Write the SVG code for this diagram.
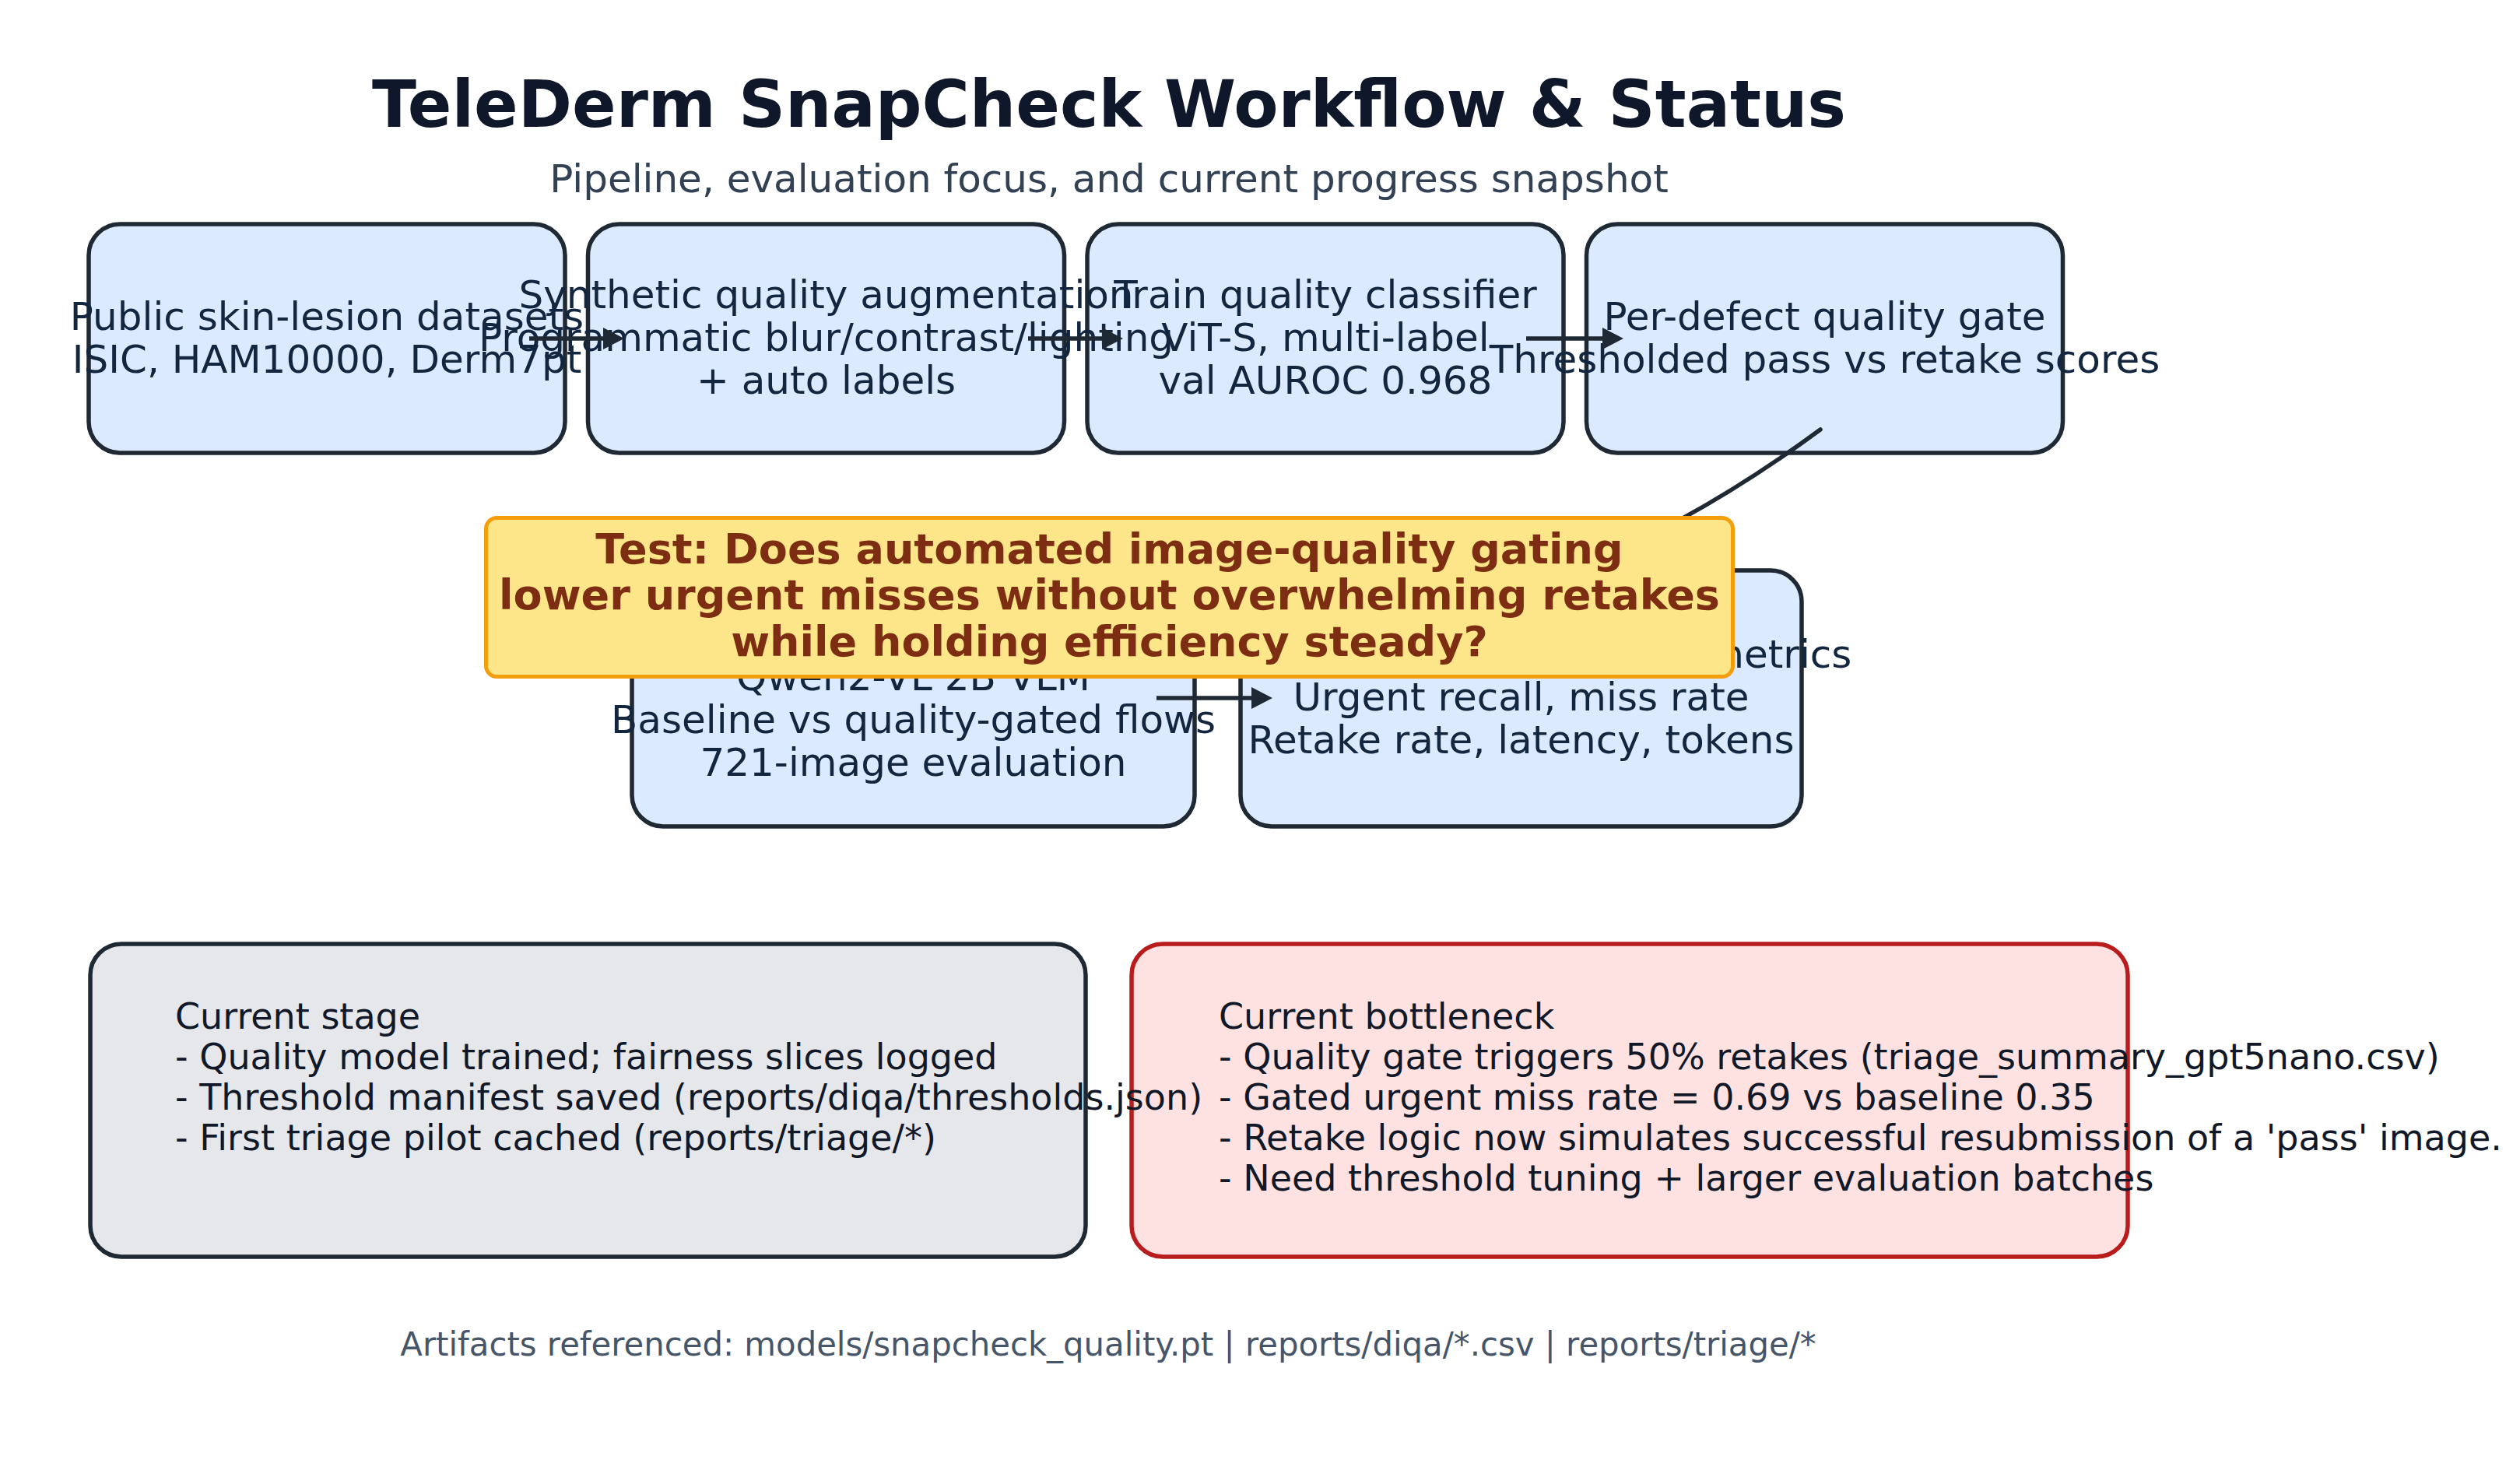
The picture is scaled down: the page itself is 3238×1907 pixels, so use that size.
<svg xmlns="http://www.w3.org/2000/svg" width="3238" height="1907" viewBox="0 0 3238 1907">
<defs>
<style>
text{font-family:"DejaVu Sans","Liberation Sans",sans-serif}
.step rect{fill:#dbeafe;stroke:#1f2933;stroke-width:5.5}
.step text{font-size:50px;fill:#12263f;text-anchor:middle}
.stage rect{fill:#e5e7eb;stroke:#1f2933;stroke-width:5.5}
.bneck rect{fill:#fee2e2;stroke:#b91c1c;stroke-width:5.5}
.note text{font-size:46px;fill:#111827}
.conn{stroke:#1f2933;stroke-width:5.5;fill:none}
.hyp rect{fill:#fde68a;stroke:#f59e0b;stroke-width:5}
.hyp text{font-size:54px;font-weight:bold;fill:#7c2d12;text-anchor:middle}
</style>
<marker id="ah" markerWidth="28" markerHeight="28" refX="0" refY="14" orient="auto" markerUnits="userSpaceOnUse">
<path d="M0,0 L27,14 L0,28 z" fill="#1f2933"/>
</marker>
</defs>
<rect width="3238" height="1907" fill="#ffffff"/>

<g id="node-datasets" class="step">
<rect x="114" y="288" width="612" height="294" rx="40"/>
<text x="420" y="424">Public skin-lesion datasets</text>
<text x="420" y="479">ISIC, HAM10000, Derm7pt</text>
</g>
<g id="node-classifier" class="step">
<rect x="1397" y="288" width="612" height="294" rx="40"/>
<text x="1703" y="396">Train quality classifier</text>
<text x="1703" y="451">ViT-S, multi-label</text>
<text x="1703" y="506">val AUROC 0.968</text>
</g>
<g id="node-augment" class="step">
<rect x="755.5" y="288" width="612" height="294" rx="40"/>
<text x="1061.5" y="396">Synthetic quality augmentation</text>
<text x="1061.5" y="451">Programmatic blur/contrast/lighting</text>
<text x="1061.5" y="506">+ auto labels</text>
</g>
<g id="node-gate" class="step">
<rect x="2038.5" y="288" width="612" height="294" rx="40"/>
<text x="2344.5" y="424">Per-defect quality gate</text>
<text x="2344.5" y="479">Thresholded pass vs retake scores</text>
</g>
<g id="node-vlm" class="step">
<rect x="812" y="733" width="723" height="329" rx="40"/>
<text x="1173.5" y="887">Qwen2-VL 2B VLM</text>
<text x="1173.5" y="942">Baseline vs quality-gated flows</text>
<text x="1173.5" y="997">721-image evaluation</text>
</g>
<g id="node-metrics" class="step">
<rect x="1594" y="733" width="721" height="329" rx="40"/>
<text x="1962" y="858">Triage safety &amp; efficiency metrics</text>
<text x="1954.5" y="913">Urgent recall, miss rate</text>
<text x="1954.5" y="968">Retake rate, latency, tokens</text>
</g>
<g id="node-bottleneck" class="note bneck">
<rect x="1454" y="1213" width="1280" height="402" rx="40"/>
<text x="1566" y="1322">Current bottleneck</text>
<text x="1566" y="1374">- Quality gate triggers 50% retakes (triage_summary_gpt5nano.csv)</text>
<text x="1566" y="1426">- Gated urgent miss rate = 0.69 vs baseline 0.35</text>
<text x="1566" y="1478">- Retake logic now simulates successful resubmission of a 'pass' image.</text>
<text x="1566" y="1530">- Need threshold tuning + larger evaluation batches</text>
</g>
<g id="node-stage" class="note stage">
<rect x="116" y="1213" width="1279" height="402" rx="40"/>
<text x="225" y="1322">Current stage</text>
<text x="225" y="1374">- Quality model trained; fairness slices logged</text>
<text x="225" y="1426">- Threshold manifest saved (reports/diqa/thresholds.json)</text>
<text x="225" y="1478">- First triage pilot cached (reports/triage/*)</text>
</g>

<g id="connectors">
<path class="conn" d="M680,435 H775" marker-end="url(#ah)"/>
<path class="conn" d="M1321,435 H1416" marker-end="url(#ah)"/>
<path class="conn" d="M1961,435 H2059" marker-end="url(#ah)"/>
<path class="conn" d="M1486,897 H1608" marker-end="url(#ah)"/>
<path class="conn" d="M2339,552 Q2003,800 1700,790" stroke-linecap="round"/>
</g>

<g id="node-hypothesis" class="hyp">
<rect x="624.5" y="665.5" width="1602" height="204" rx="14"/>
<text x="1425.5" y="724">Test: Does automated image-quality gating</text>
<text x="1425.5" y="783">lower urgent misses without overwhelming retakes</text>
<text x="1425.5" y="843">while holding efficiency steady?</text>
</g>

<g id="titles">
<text x="1425" y="163" font-size="83.5" font-weight="bold" fill="#0f172a" text-anchor="middle">TeleDerm SnapCheck Workflow &amp; Status</text>
<text x="1425" y="247" font-size="50" fill="#334155" text-anchor="middle">Pipeline, evaluation focus, and current progress snapshot</text>
<text x="1424" y="1742" font-size="41.8" fill="#475569" text-anchor="middle">Artifacts referenced: models/snapcheck_quality.pt | reports/diqa/*.csv | reports/triage/*</text>
</g>
</svg>
